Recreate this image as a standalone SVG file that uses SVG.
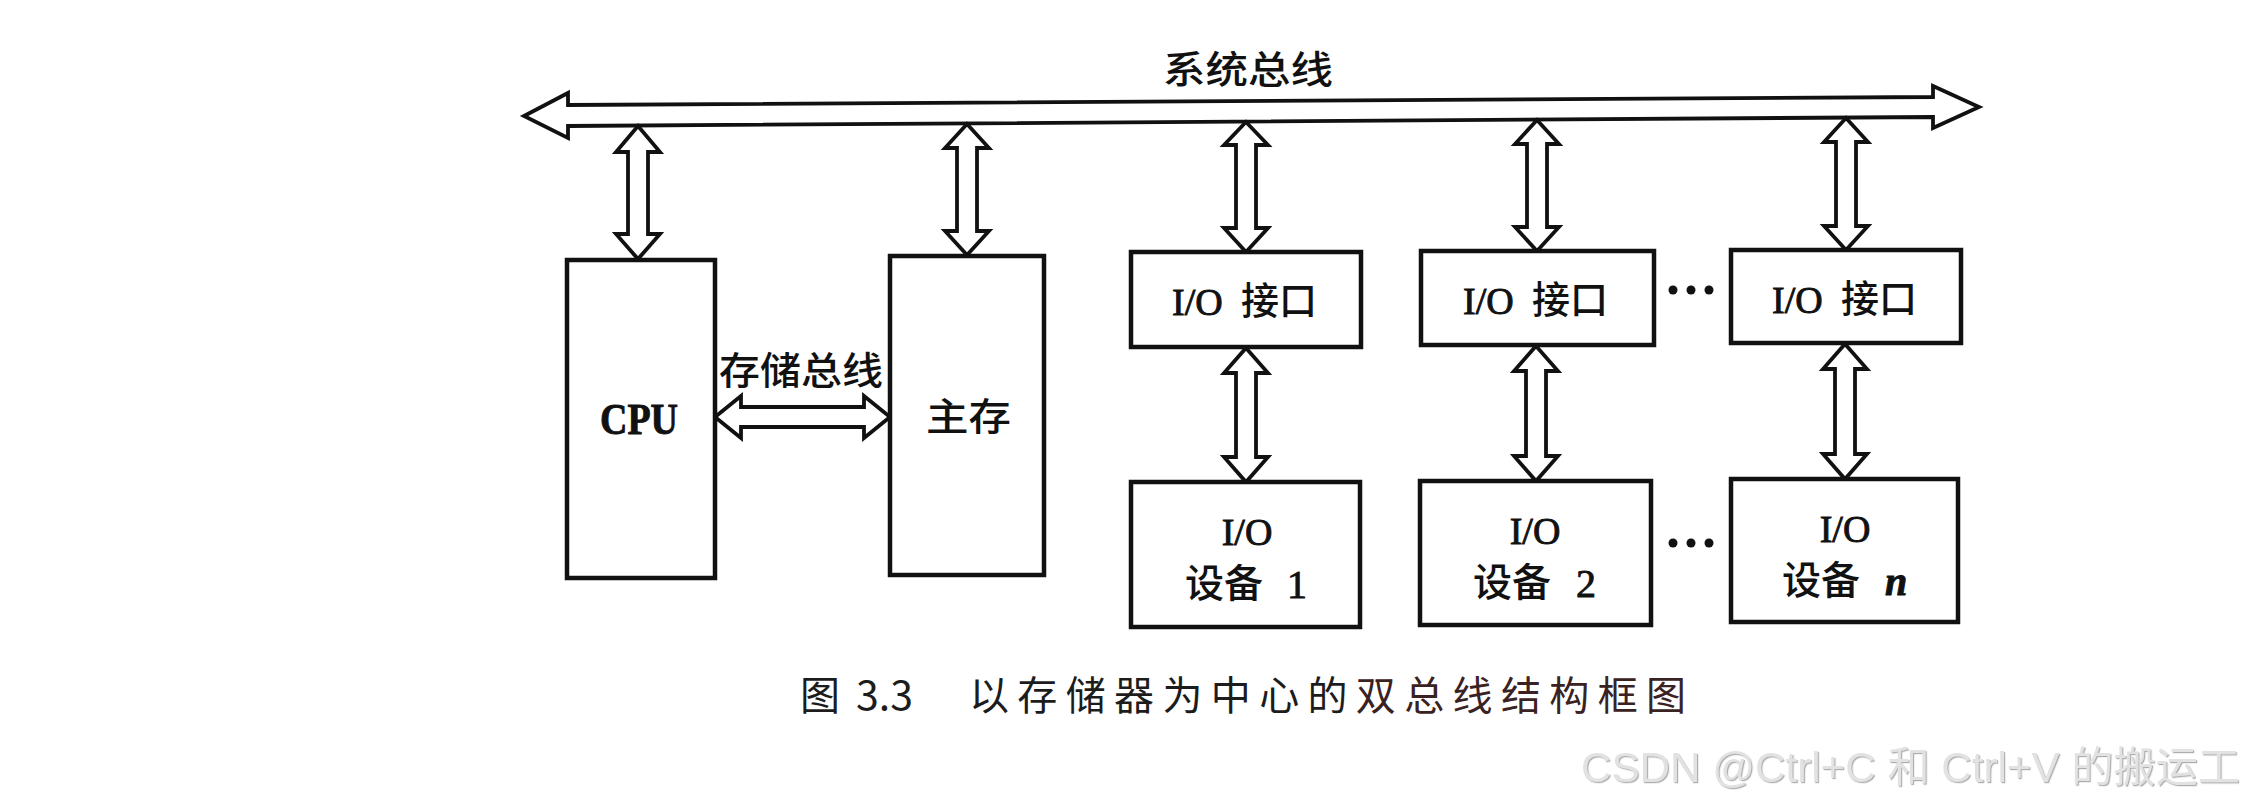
<svg xmlns="http://www.w3.org/2000/svg" width="2252" height="803" viewBox="0 0 2252 803">
  <defs>
    <style>
      .box { fill: #ffffff; stroke: #111111; stroke-width: 4.5; }
      .arr { fill: #ffffff; stroke: #111111; stroke-width: 3.8; stroke-linejoin: miter; }
      .cjk { font-family: "Noto Sans CJK SC", "Noto Sans", sans-serif; font-weight: 500; fill: #111111; stroke: none; }
      .lat { font-family: "Liberation Serif", "DejaVu Serif", serif; fill: #111111; stroke: #111111; stroke-width: 0.9; }
      .cap { font-family: "Noto Sans CJK SC", "Noto Sans", sans-serif; font-weight: 400; fill: #1c1c1c; }
      .dot { fill: #111111; }
      .wm { font-family: "Liberation Sans", "Noto Sans CJK SC", sans-serif; fill: #e2e2e2; }
    </style>
    <filter id="emboss" x="-5%" y="-20%" width="110%" height="140%">
      <feDropShadow dx="1.2" dy="1.2" stdDeviation="0.6" flood-color="#9a9a9a" flood-opacity="0.8"/>
    </filter>
  </defs>

  <rect x="0" y="0" width="2252" height="803" fill="#ffffff"/>

  <!-- connectors -->
  <g id="connectors">
    <!-- system bus -->
    <path id="system-bus" class="arr" d="M524,116 L568,93 L568,105 L1933,97 L1933,86 L1979,107 L1933,128 L1933,117 L568,126 L568,138 Z"/>
    <!-- memory bus -->
    <path id="memory-bus" class="arr" d="M715,417 L741,396 L741,407 L864,407 L864,396 L890,417 L864,438 L864,427 L741,427 L741,438 Z"/>
    <!-- bus to CPU -->
    <path class="arr" d="M638,126 L660,152 L648,152 L648,234 L660,234 L638,259 L616,234 L628,234 L628,152 L616,152 Z"/>
    <!-- bus to memory -->
    <path class="arr" d="M967,124 L989,148 L977,148 L977,231 L989,231 L967,255 L945,231 L957,231 L957,148 L945,148 Z"/>
    <!-- bus to IO interfaces -->
    <path class="arr" d="M1246,122 L1268,145 L1256,145 L1256,228 L1268,228 L1246,252 L1224,228 L1236,228 L1236,145 L1224,145 Z"/>
    <path class="arr" d="M1537,120 L1559,144 L1547,144 L1547,227 L1559,227 L1537,251 L1515,227 L1527,227 L1527,144 L1515,144 Z"/>
    <path class="arr" d="M1846,118 L1868,142 L1856,142 L1856,226 L1868,226 L1846,250 L1824,226 L1836,226 L1836,142 L1824,142 Z"/>
    <!-- IO interfaces to IO devices -->
    <path class="arr" d="M1246,348 L1268,373 L1256,373 L1256,457 L1268,457 L1246,482 L1224,457 L1236,457 L1236,373 L1224,373 Z"/>
    <path class="arr" d="M1536,346 L1558,371 L1546,371 L1546,456 L1558,456 L1536,481 L1514,456 L1526,456 L1526,371 L1514,371 Z"/>
    <path class="arr" d="M1845,344 L1867,369 L1855,369 L1855,454 L1867,454 L1845,479 L1823,454 L1835,454 L1835,369 L1823,369 Z"/>
  </g>

  <!-- labels on buses -->
  <g id="system-bus-label">
    <text class="cjk" x="1163" y="83" font-size="38" textLength="170" lengthAdjust="spacingAndGlyphs">系统总线</text>
  </g>
  <g id="memory-bus-label">
    <text class="cjk" x="719" y="384" font-size="38" textLength="164" lengthAdjust="spacingAndGlyphs">存储总线</text>
  </g>

  <!-- CPU -->
  <g id="cpu">
    <rect class="box" x="567" y="260" width="148" height="318"/>
    <text class="lat" x="600" y="434" font-size="44" font-weight="bold" stroke-width="0.4" textLength="78" lengthAdjust="spacingAndGlyphs">CPU</text>
  </g>

  <!-- Main memory -->
  <g id="main-memory">
    <rect class="box" x="890" y="256" width="154" height="319"/>
    <text class="cjk" x="926" y="430" font-size="38" textLength="85" lengthAdjust="spacingAndGlyphs">主存</text>
  </g>

  <!-- IO interfaces -->
  <g id="io-interface-1">
    <rect class="box" x="1131" y="252" width="230" height="95"/>
    <text class="lat" x="1172" y="315" font-size="38">I/O</text>
    <text class="cjk" x="1241" y="314" font-size="38">接口</text>
  </g>
  <g id="io-interface-2">
    <rect class="box" x="1421" y="251" width="233" height="94"/>
    <text class="lat" x="1463" y="314" font-size="38">I/O</text>
    <text class="cjk" x="1532" y="313" font-size="38">接口</text>
  </g>
  <g id="io-interface-n">
    <rect class="box" x="1731" y="250" width="230" height="93"/>
    <text class="lat" x="1772" y="313" font-size="38">I/O</text>
    <text class="cjk" x="1841" y="312" font-size="38">接口</text>
  </g>

  <!-- IO devices -->
  <g id="io-device-1">
    <rect class="box" x="1131" y="482" width="229" height="145"/>
    <text class="lat" x="1247" y="545" font-size="38" text-anchor="middle">I/O</text>
    <text class="cjk" x="1185" y="597" font-size="39">设备</text>
    <text class="lat" x="1287" y="598" font-size="40">1</text>
  </g>
  <g id="io-device-2">
    <rect class="box" x="1420" y="481" width="231" height="144"/>
    <text class="lat" x="1535" y="544" font-size="38" text-anchor="middle">I/O</text>
    <text class="cjk" x="1473" y="596" font-size="39">设备</text>
    <text class="lat" x="1576" y="597" font-size="40">2</text>
  </g>
  <g id="io-device-n">
    <rect class="box" x="1731" y="479" width="227" height="143"/>
    <text class="lat" x="1845" y="542" font-size="38" text-anchor="middle">I/O</text>
    <text class="cjk" x="1782" y="594" font-size="39">设备</text>
    <text class="lat" x="1885" y="595" font-size="40" font-style="italic" font-weight="bold">n</text>
  </g>

  <!-- ellipses -->
  <g id="ellipsis-interfaces">
    <circle class="dot" cx="1673" cy="290" r="4.5"/>
    <circle class="dot" cx="1691" cy="290" r="4.5"/>
    <circle class="dot" cx="1709" cy="290" r="4.5"/>
  </g>
  <g id="ellipsis-devices">
    <circle class="dot" cx="1673" cy="543" r="4.5"/>
    <circle class="dot" cx="1691" cy="543" r="4.5"/>
    <circle class="dot" cx="1709" cy="543" r="4.5"/>
  </g>

  <!-- caption -->
  <g id="caption">
    <text class="cap" x="800" y="710" font-size="40">图</text>
    <text class="cap" x="856" y="710" font-size="41">3.3</text>
    <text class="cap" x="969" y="710" font-size="40" textLength="717">以存储器为中心的<tspan fill="#3a2222">双总线结构框图</tspan></text>
  </g>

  <!-- watermark -->
  <g id="watermark">
    <text class="wm" x="1581" y="782" font-size="42" textLength="659" lengthAdjust="spacingAndGlyphs" filter="url(#emboss)">CSDN @Ctrl+C 和 Ctrl+V 的搬运工</text>
  </g>
</svg>
